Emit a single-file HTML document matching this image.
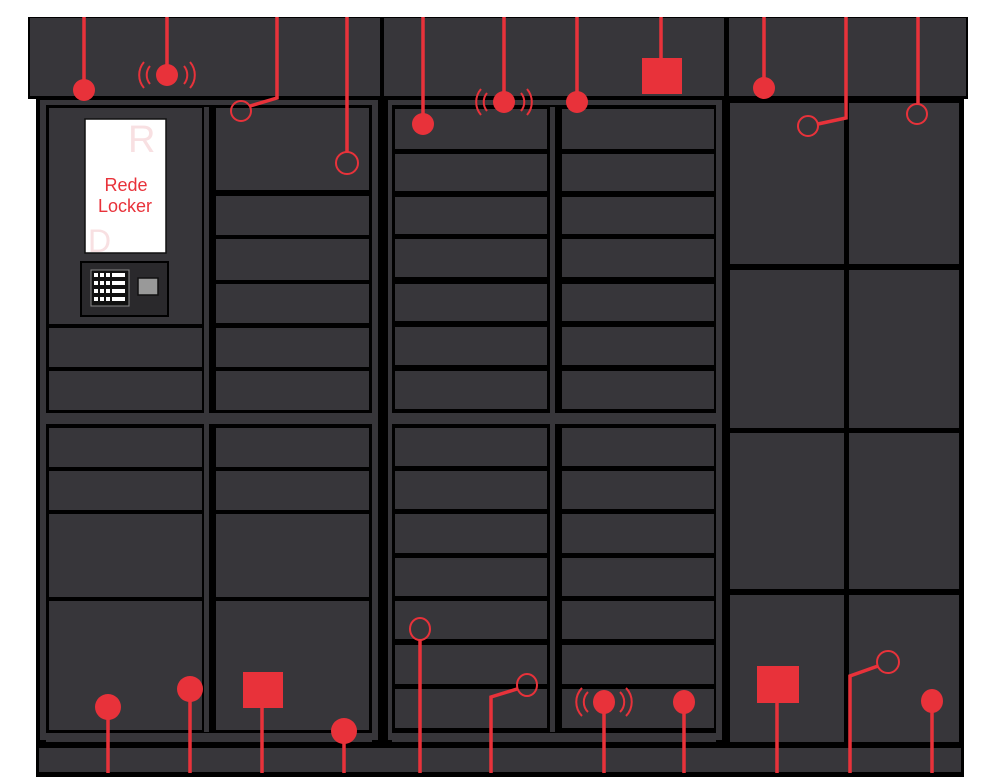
<!DOCTYPE html>
<html><head><meta charset="utf-8"><style>
html,body{margin:0;padding:0;background:#fff;width:1000px;height:780px;overflow:hidden}
svg{display:block}
</style></head><body>
<svg width="1000" height="780" viewBox="0 0 1000 780" xmlns="http://www.w3.org/2000/svg">
<g fill="#37363a">
<rect x="36" y="97" width="928" height="680" fill="#000"/>
<rect x="28" y="17" width="940" height="82" fill="#000"/>
<rect x="30" y="18" width="350" height="78"/>
<rect x="384" y="18" width="340" height="78"/>
<rect x="729" y="18" width="237" height="78"/>
<rect x="40" y="100" width="6" height="640"/>
<rect x="372" y="100" width="6" height="640"/>
<rect x="388" y="100" width="4" height="640"/>
<rect x="716" y="100" width="6" height="640"/>
<rect x="46" y="100" width="326" height="5"/>
<rect x="392" y="100" width="324" height="5"/>
<rect x="204" y="107" width="5" height="625"/>
<rect x="550" y="107" width="5" height="625"/>
<rect x="49" y="108" width="153" height="216"/>
<rect x="49" y="328" width="153" height="39"/>
<rect x="49" y="371" width="153" height="39"/>
<rect x="46" y="413" width="326" height="11"/>
<rect x="49" y="428" width="153" height="39"/>
<rect x="49" y="471" width="153" height="39"/>
<rect x="49" y="514" width="153" height="83"/>
<rect x="49" y="601" width="153" height="129"/>
<rect x="216" y="108" width="153" height="82"/>
<rect x="216" y="196" width="153" height="39"/>
<rect x="216" y="239" width="153" height="41"/>
<rect x="216" y="284" width="153" height="39"/>
<rect x="216" y="328" width="153" height="39"/>
<rect x="216" y="371" width="153" height="39"/>
<rect x="216" y="428" width="153" height="39"/>
<rect x="216" y="471" width="153" height="39"/>
<rect x="216" y="514" width="153" height="83"/>
<rect x="216" y="601" width="153" height="129"/>
<rect x="46" y="733" width="326" height="9"/>
<g id="mrows">
<rect x="395" y="109" width="152" height="40"/>
<rect x="395" y="154" width="152" height="37"/>
<rect x="395" y="197" width="152" height="37"/>
<rect x="395" y="239" width="152" height="38"/>
<rect x="395" y="284" width="152" height="37"/>
<rect x="395" y="327" width="152" height="38"/>
<rect x="395" y="371" width="152" height="38"/>
<rect x="395" y="428" width="152" height="38"/>
<rect x="395" y="471" width="152" height="38"/>
<rect x="395" y="514" width="152" height="39"/>
<rect x="395" y="558" width="152" height="38"/>
<rect x="395" y="601" width="152" height="38"/>
<rect x="395" y="645" width="152" height="39"/>
<rect x="395" y="689" width="152" height="39"/>
</g>
<use href="#mrows" x="167"/>
<rect x="392" y="413" width="324" height="11"/>
<rect x="392" y="733" width="324" height="9"/>
<rect x="730" y="103" width="114" height="161"/>
<rect x="849" y="103" width="110" height="161"/>
<rect x="730" y="270" width="114" height="158"/>
<rect x="849" y="270" width="110" height="158"/>
<rect x="730" y="433" width="114" height="156"/>
<rect x="849" y="433" width="110" height="156"/>
<rect x="730" y="595" width="114" height="147"/>
<rect x="849" y="595" width="110" height="147"/>
<rect x="39" y="748" width="922" height="24"/>
</g>
<rect x="85" y="119" width="81" height="134" fill="#fff" stroke="#111" stroke-width="1.5"/>
<text x="128" y="152" font-family="Liberation Sans, sans-serif" font-size="38" fill="#f8e0e2">R</text>
<text x="88" y="252" font-family="Liberation Sans, sans-serif" font-size="32" fill="#f8e0e2">D</text>
<text x="126" y="191" font-family="Liberation Sans, sans-serif" font-size="18" fill="#e8323a" text-anchor="middle">Rede</text>
<text x="125" y="212" font-family="Liberation Sans, sans-serif" font-size="18" fill="#e8323a" text-anchor="middle">Locker</text>
<rect x="81" y="262" width="87" height="54" fill="#2a292c" stroke="#000" stroke-width="2"/>
<rect x="91" y="270" width="38" height="36" fill="#111" stroke="#888" stroke-width="1"/>
<g fill="#fff">
<rect x="94" y="273" width="4" height="4"/><rect x="100" y="273" width="4" height="4"/><rect x="106" y="273" width="4" height="4"/><rect x="112" y="273" width="13" height="4"/>
<rect x="94" y="281" width="4" height="4"/><rect x="100" y="281" width="4" height="4"/><rect x="106" y="281" width="4" height="4"/><rect x="112" y="281" width="13" height="4"/>
<rect x="94" y="289" width="4" height="4"/><rect x="100" y="289" width="4" height="4"/><rect x="106" y="289" width="4" height="4"/><rect x="112" y="289" width="13" height="4"/>
<rect x="94" y="297" width="4" height="4"/><rect x="100" y="297" width="4" height="4"/><rect x="106" y="297" width="4" height="4"/><rect x="112" y="297" width="13" height="4"/>
</g>
<rect x="138" y="278" width="20" height="17" fill="#999" stroke="#111" stroke-width="1.5"/>
<g stroke="#e8323a" stroke-width="3.5" fill="none">
<path d="M84 17V90M167 17V75M277 17V98L250 106M347 17V152M423 17V124M504 17V100M577 17V100M661 17V60M764 17V88M846 17V118L818 124M918 17V104"/>
<path d="M108 707V773M190 689V773M262 705V773M344 731V773M420 640V773M491 773V697L517 689M604 702V773M684 702V773M777 700V773M850 773V676L878 666M932 701V773"/>
</g>
<g fill="#e8323a">
<circle cx="84" cy="90" r="11"/><circle cx="167" cy="75" r="11"/><circle cx="423" cy="124" r="11"/>
<circle cx="504" cy="102" r="11"/><circle cx="577" cy="102" r="11"/><circle cx="764" cy="88" r="11"/>
<rect x="642" y="58" width="40" height="36"/>
<ellipse cx="108" cy="707" rx="13" ry="13"/><ellipse cx="190" cy="689" rx="13" ry="13"/>
<rect x="243" y="672" width="40" height="36"/>
<ellipse cx="344" cy="731" rx="13" ry="13"/><ellipse cx="604" cy="702" rx="11" ry="12"/>
<ellipse cx="684" cy="702" rx="11" ry="12"/><rect x="757" y="666" width="42" height="37"/>
<ellipse cx="932" cy="701" rx="11" ry="12"/>
</g>
<g stroke="#e8323a" stroke-width="2" fill="none">
<circle cx="241" cy="111" r="10"/><circle cx="347" cy="163" r="11"/>
<circle cx="808" cy="126" r="10"/><circle cx="917" cy="114" r="10"/>
<ellipse cx="420" cy="629" rx="10" ry="11"/><ellipse cx="527" cy="685" rx="10" ry="11"/>
<ellipse cx="888" cy="662" rx="11" ry="11"/>
<path d="M150 66a14 14 0 0 0 0 18M144 62a20 20 0 0 0 0 26M184 66a14 14 0 0 1 0 18M190 62a20 20 0 0 1 0 26"/>
<path d="M487 93a14 14 0 0 0 0 18M481 89a20 20 0 0 0 0 26M521 93a14 14 0 0 1 0 18M527 89a20 20 0 0 1 0 26"/>
<path d="M588 692a14 14 0 0 0 0 20M582 688a20 20 0 0 0 0 28M620 692a14 14 0 0 1 0 20M626 688a20 20 0 0 1 0 28"/>
</g>
</svg>
</body></html>
